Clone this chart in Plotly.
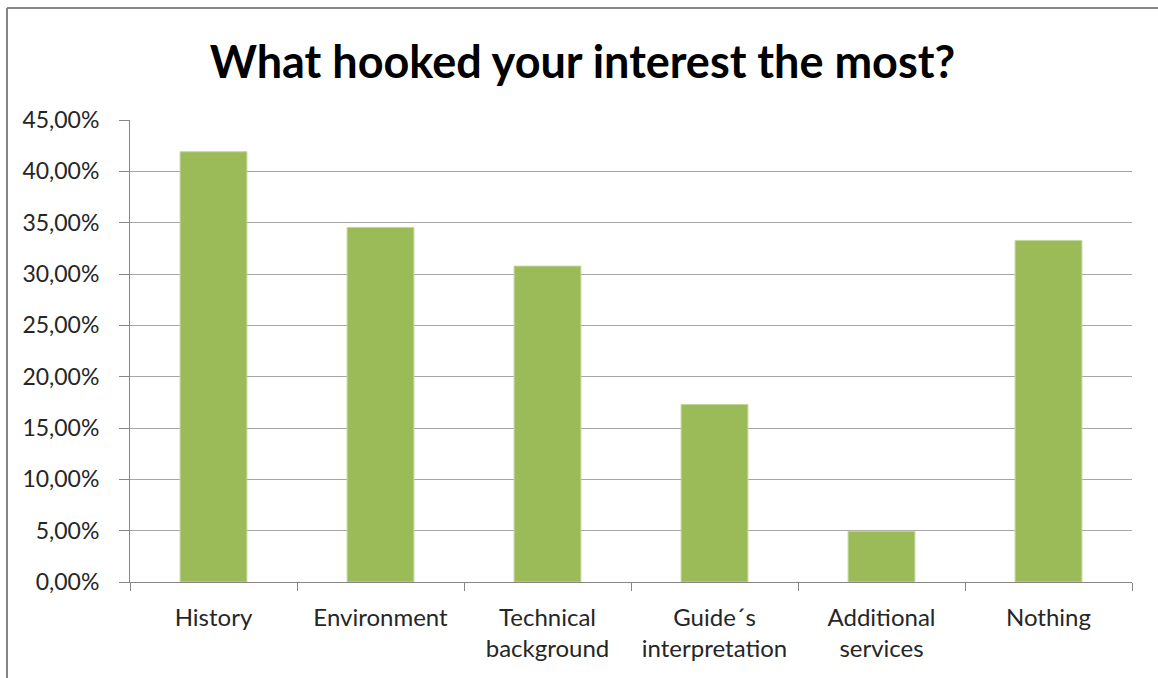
import plotly.graph_objects as go

categories = ["History", "Environment", "Technical<br>background",
              "Guide´s<br>interpretation", "Additional<br>services", "Nothing"]
values = [0.4191, 0.3454, 0.3077, 0.1729, 0.0494, 0.3327]
y_ticks = [0, 0.05, 0.10, 0.15, 0.20, 0.25, 0.30, 0.35, 0.40, 0.45]
y_labels = ["0,00%", "5,00%", "10,00%", "15,00%", "20,00%", "25,00%",
            "30,00%", "35,00%", "40,00%", "45,00%"]
title_text = "What hooked your interest the most?"

W, H = 1158, 678
L, R, T, B = 130, 26, 120, 96
pw, ph = W - L - R, H - T - B

fig = go.Figure(go.Bar(
    x=categories, y=values,
    marker=dict(color="#9BBB59", line=dict(color="#C3D69B", width=1)),
    width=0.4,
))

def px_to_paper_x(px):
    return (px - L) / pw

def px_to_paper_y(py):
    return 1 + (T - py) / ph

fig.update_layout(
    width=W, height=H,
    margin=dict(l=L, r=R, t=T, b=B),
    paper_bgcolor="white", plot_bgcolor="white",
    showlegend=False,
    title=dict(text="<b>" + title_text + "</b>", x=0.503, xanchor="center",
               y=1 - 62 / H, yanchor="middle",
               font=dict(family="Lato", size=45, color="#000000")),
    font=dict(family="Lato", color="#262626"),
    xaxis=dict(
        type="category", tickson="boundaries",
        ticks="outside", ticklen=8, tickcolor="#868686", tickwidth=1,
        showline=True, linecolor="#868686", linewidth=1,
        showgrid=False,
        tickfont=dict(family="Lato", size=24, color="#262626"),
        ticklabelstandoff=14,
        range=[-0.5, 5.5],
    ),
    yaxis=dict(
        range=[0, 0.45],
        tickvals=y_ticks, ticktext=y_labels,
        ticks="outside", ticklen=10, tickcolor="#868686", tickwidth=1,
        showline=True, linecolor="#868686", linewidth=1,
        showgrid=True, gridcolor="#A6A6A6", gridwidth=1,
        tickfont=dict(family="Lato", size=23, color="#262626"),
        ticklabelstandoff=15,
        zeroline=False,
    ),
    shapes=[
        dict(type="line", xref="paper", yref="paper",
             x0=px_to_paper_x(7), x1=px_to_paper_x(7),
             y0=px_to_paper_y(8), y1=px_to_paper_y(700),
             line=dict(color="#868686", width=2)),
        dict(type="line", xref="paper", yref="paper",
             x0=px_to_paper_x(7), x1=px_to_paper_x(1200),
             y0=px_to_paper_y(8), y1=px_to_paper_y(8),
             line=dict(color="#868686", width=2)),
    ],
)

fig.write_html("out.html")
